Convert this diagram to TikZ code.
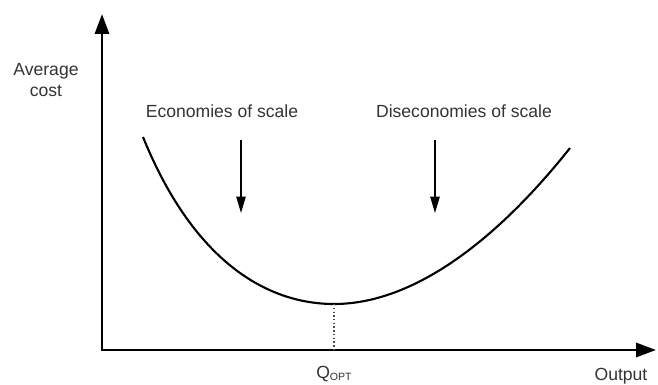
\documentclass[tikz,border=0pt]{standalone}
\usepackage{fontspec}
\setmainfont{Liberation Sans}
\usetikzlibrary{arrows.meta,positioning}

\begin{document}
\begin{tikzpicture}[
  x=0.03cm, y=-0.03cm,
  txt/.style={inner sep=0pt, align=center, font=\fontsize{15}{17.5}\selectfont, text=black!80},
  axis/.style={-{Triangle[length=17pt, width=12pt]}, line width=2.4pt},
  curve/.style={line width=1.8pt},
  tip/.style={-{Triangle[length=14pt, width=8pt]}, line width=1.3pt},
  dropline/.style={dotted, line width=1.2pt, black!70}
]
  \useasboundingbox (0,0) rectangle (658,385);
  % Axes
  \coordinate (origin) at (102,350);
  \coordinate (ytop) at (102,14);
  \coordinate (xend) at (656,350);
  \draw[axis] (origin) -- (ytop);
  \draw[axis] ([xshift=-1.2pt]origin) -- (xend);
  \node[txt] (ylab) at (46,80) {Average\\cost};
  \node[txt] (xlab) at (621,376) {Output};
  % Cost curve
  \coordinate (cstart) at (143,137);
  \coordinate (cmin) at (334,304);
  \coordinate (cend) at (570,148);
  \draw[curve] (cstart) .. controls (195,265) and (270,304) .. (cmin)
    .. controls (420,304) and (505,230) .. (cend);
  % Optimum
  \coordinate (qfoot) at (334,350);
  \draw[dropline] (cmin) -- (qfoot);
  \node[txt] (qopt) at (334,374) {Q\raisebox{-0.25ex}{\fontsize{9}{10}\selectfont OPT}};
  % Regions
  \node[txt] (eco) at (222,111) {Economies of scale};
  \node[txt] (dis) at (464,111) {Diseconomies of scale};
  \coordinate (ecotop) at (241,140);
  \coordinate (ecobot) at (241,213);
  \coordinate (distop) at (435,140);
  \coordinate (disbot) at (435,213);
  \draw[tip] (ecotop) -- (ecobot);
  \draw[tip] (distop) -- (disbot);
\end{tikzpicture}
\end{document}
